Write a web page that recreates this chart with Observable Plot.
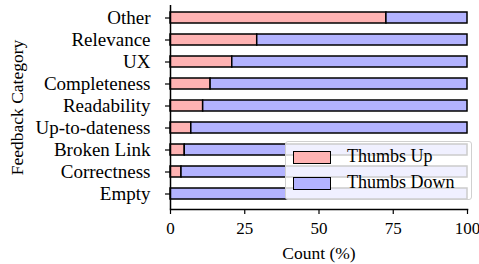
<!DOCTYPE html>
<html><head><meta charset="utf-8">
<script src="https://cdn.jsdelivr.net/npm/d3@7"></script>
<script src="https://cdn.jsdelivr.net/npm/@observablehq/plot@0.6"></script>
<style>
body{margin:0;background:#fff;}
#wrap{position:relative;width:479px;height:264px;overflow:hidden;}
.legend{position:absolute;left:285px;top:141px;width:187px;height:59px;background:rgba(255,255,255,0.8);border:1px solid #d0d0d0;border-radius:3px;box-sizing:border-box;font-family:"Liberation Serif",serif;font-size:18px;color:#000;}
.item{position:absolute;left:0;height:20px;width:180px;}
.sw{position:absolute;left:7px;top:3px;width:38px;height:13px;box-sizing:border-box;border:1.5px solid #000;}
.lab{position:absolute;left:61px;top:-3px;line-height:22px;white-space:nowrap;}
</style></head>
<body><div id="wrap"></div>
<script>
const categories = ["Other","Relevance","UX","Completeness","Readability","Up-to-dateness","Broken Link","Correctness","Empty"];
const thumbsUp   = [72.7, 29.2, 20.8, 13.5, 11.0, 7.0, 4.8, 3.7, 0];
const thumbsDown = [27.3, 70.8, 79.2, 86.5, 89.0, 93.0, 95.2, 96.3, 100];
const seriesNames = ["Thumbs Up","Thumbs Down"];
const seriesColors = ["#ffb3b3","#b3b3ff"];
const xTicks = [0,25,50,75,100];
const xTitle = "Count (%)";
const yTitle = "Feedback Category";

const rows = [];
categories.forEach((c,i)=>{
  rows.push({cat:c, type:seriesNames[0], value:thumbsUp[i]});
  rows.push({cat:c, type:seriesNames[1], value:thumbsDown[i]});
});

const chart = Plot.plot({
  width:479, height:264,
  marginLeft:170, marginRight:12, marginTop:5, marginBottom:55,
  style:{fontFamily:"'Liberation Serif', serif", fontSize:"18px", background:"#fff", color:"#000"},
  x:{domain:[0,100], label:null},
  y:{domain:categories, range:[0.6,210.5], padding:0.5, label:null},
  color:{domain:seriesNames, range:seriesColors},
  marks:[
    Plot.barX(rows, Plot.stackX({y:"cat", x:"value", fill:"type", stroke:"#000", strokeWidth:1.5, order:null})),
    Plot.ruleX([0], {stroke:"#000", strokeWidth:1.5}),
    Plot.frame({anchor:"bottom", stroke:"#000", strokeWidth:1.5}),
    Plot.axisX({ticks:xTicks, tickSize:5, tickPadding:7, fontSize:17, label:null, strokeWidth:1.2}),
    Plot.axisY({tickSize:5, tickPadding:15, fontSize:19, label:null, strokeWidth:1.2}),
    Plot.text([xTitle], {text:d=>d, frameAnchor:"bottom", dy:44, lineAnchor:"middle", textAnchor:"middle", fontSize:17.5}),
    Plot.text([yTitle], {text:d=>d, frameAnchor:"left", dx:-160, dy:0, rotate:-90, lineAnchor:"top", textAnchor:"middle", fontSize:17.5})
  ]
});
const wrap = document.getElementById("wrap");
wrap.appendChild(chart);

const lg = document.createElement("div");
lg.className = "legend";
seriesNames.forEach((n,i)=>{
  const it = document.createElement("div");
  it.className = "item";
  it.style.top = (6 + i*26) + "px";
  const sw = document.createElement("div");
  sw.className = "sw"; sw.style.background = seriesColors[i];
  const lb = document.createElement("div");
  lb.className = "lab"; lb.textContent = n;
  it.appendChild(sw); it.appendChild(lb);
  lg.appendChild(it);
});
wrap.appendChild(lg);
</script>
</body></html>
